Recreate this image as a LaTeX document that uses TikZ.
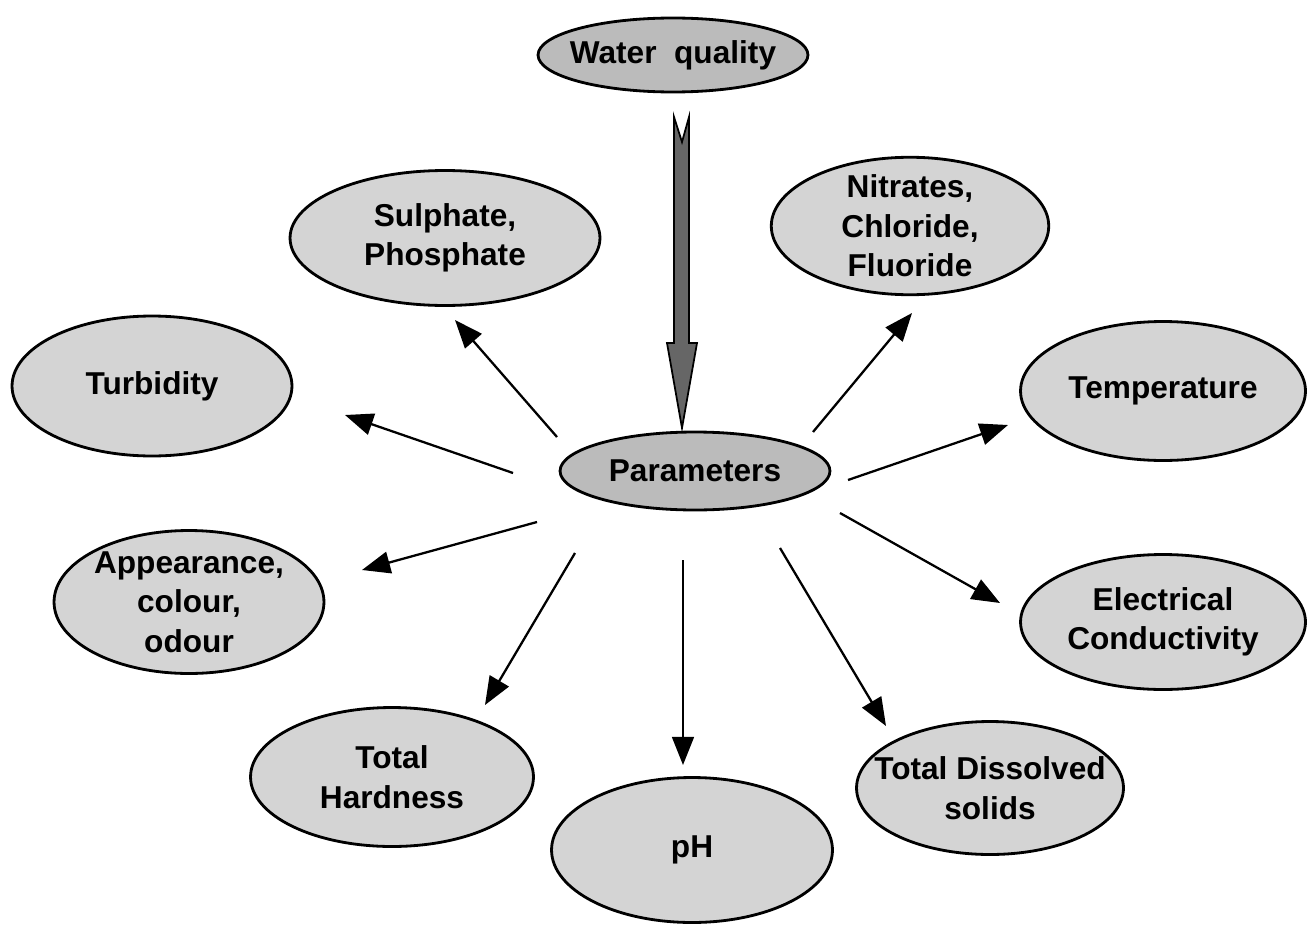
\documentclass[tikz,border=0pt]{standalone}
\usepackage{fontspec}
\setmainfont{Liberation Sans}
\usetikzlibrary{shapes.geometric,arrows.meta}
\definecolor{lightfill}{HTML}{D4D4D4}
\definecolor{darkfill}{HTML}{BBBBBB}
\definecolor{bigarrow}{HTML}{666666}
\tikzset{
  bubble/.style={ellipse, draw=black, line width=1.6pt, fill=lightfill, inner sep=0pt},
  keybubble/.style={bubble, fill=darkfill},
  txt/.style={label={[align=center, font=\fontsize{18}{22.5}\selectfont\bfseries]center:#1}},
  ptr/.style={line width=1.3pt, -{Triangle[length=16pt,width=12.5pt]}},
}
\begin{document}
\begin{tikzpicture}[x=0.02cm,y=-0.02cm]
\useasboundingbox (0,0) rectangle (1311,926);
% nodes
\node[keybubble, minimum width=5.4cm, minimum height=1.48cm, txt={Water\ \ quality}] (wq) at (673,55) {};
\node[keybubble, minimum width=5.4cm, minimum height=1.56cm, txt={Parameters}] (par) at (695,471) {};
\node[bubble, minimum width=6.2cm, minimum height=2.7cm, txt={Sulphate,\\Phosphate}] (sul) at (445,238) {};
\node[bubble, minimum width=5.55cm, minimum height=2.75cm, txt={Nitrates,\\Chloride,\\Fluoride}] (nit) at (910,226) {};
\node[bubble, minimum width=5.6cm, minimum height=2.8cm, txt={Turbidity}] (tur) at (152,386) {};
\node[bubble, minimum width=5.7cm, minimum height=2.78cm, txt={Temperature}] (tem) at (1163,391) {};
\node[bubble, minimum width=5.4cm, minimum height=2.86cm, txt={Appearance,\\colour,\\odour}] (app) at (189,602) {};
\node[bubble, minimum width=5.7cm, minimum height=2.7cm, txt={Electrical\\Conductivity}] (ele) at (1163,622) {};
\node[bubble, minimum width=5.66cm, minimum height=2.78cm, txt={Total\\Hardness}] (har) at (392,777) {};
\node[bubble, minimum width=5.62cm, minimum height=2.9cm, txt={pH}] (ph) at (692,850) {};
\node[bubble, minimum width=5.34cm, minimum height=2.66cm, txt={Total Dissolved\\solids}] (tds) at (990,788) {};
% big arrow from Water quality to Parameters
\draw[line width=1pt, fill=bigarrow, line join=miter]
  (674,117) -- (682,142) -- (689,117) -- (689,343) -- (697,343) -- (682,428)
  -- (667,343) -- (674,343) -- cycle;
% arrow end points (free ends)
\coordinate (s1) at (557,437); \coordinate (t1) at (455,320);
\coordinate (s2) at (513,473); \coordinate (t2) at (345,415);
\coordinate (s3) at (813,432); \coordinate (t3) at (912,313);
\coordinate (s4) at (848,480); \coordinate (t4) at (1008,425);
\coordinate (s5) at (537,522); \coordinate (t5) at (362,570);
\coordinate (s6) at (840,513); \coordinate (t6) at (1000,603);
\coordinate (s7) at (575,553); \coordinate (t7) at (485,705);
\coordinate (s8) at (683,560); \coordinate (t8) at (683,765);
\coordinate (s9) at (780,548); \coordinate (t9) at (886,726);
\draw[ptr] (s1) -- (t1);
\draw[ptr] (s2) -- (t2);
\draw[ptr] (s3) -- (t3);
\draw[ptr] (s4) -- (t4);
\draw[ptr] (s5) -- (t5);
\draw[ptr] (s6) -- (t6);
\draw[ptr] (s7) -- (t7);
\draw[ptr, line width=1pt] (s8) -- (t8);
\draw[ptr] (s9) -- (t9);
\end{tikzpicture}
\end{document}
